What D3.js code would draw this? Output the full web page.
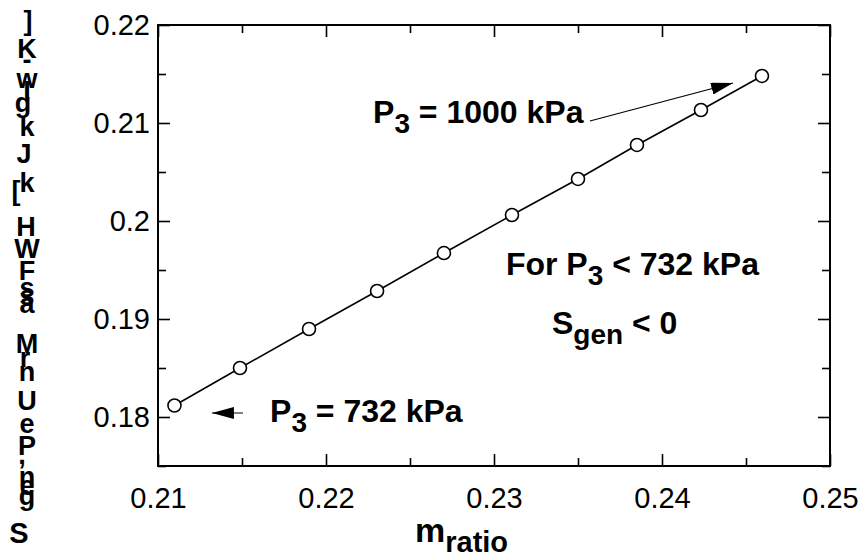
<!DOCTYPE html>
<html><head><meta charset="utf-8">
<script src="https://cdn.jsdelivr.net/npm/d3@7"></script>
<style>
body{margin:0;background:#fff}
text{font-family:"Liberation Sans",Arial,Helvetica,sans-serif;fill:#000}
</style>
</head><body>
<svg id="chart" width="864" height="560"></svg>
<script>
// ---- data ----
const mRatio = [0.21098, 0.21488, 0.21899, 0.22304, 0.22702, 0.23107, 0.23500, 0.23851, 0.24232, 0.24595];
const sGen   = [0.18117, 0.18500, 0.18898, 0.19286, 0.19673, 0.20061, 0.20429, 0.20776, 0.21133, 0.21480];
const xTicks = [0.21, 0.22, 0.23, 0.24, 0.25];
const xTickLabels = ["0.21", "0.22", "0.23", "0.24", "0.25"];
const xMinorTicks = [0.215, 0.225, 0.235, 0.245];
const yTicks = [0.18, 0.19, 0.2, 0.21, 0.22];
const yTickLabels = ["0.18", "0.19", "0.2", "0.21", "0.22"];
const yMinorTicks = [0.175, 0.185, 0.195, 0.205, 0.215];

// ---- layout ----
const svg = d3.select("#chart");
const L = 158, R = 830, T = 25, B = 466;
const x = d3.scaleLinear().domain([0.21, 0.25]).range([L, R]);
const y = d3.scaleLinear().domain([0.175, 0.22]).range([B, T]);
const tickFont = 29;

function styleAxis(g) {
  g.select(".domain").remove();
  g.selectAll("line").attr("stroke", "#000").attr("stroke-width", 1.6);
  g.selectAll("text").style("font-size", tickFont + "px");
}
const fmtX = (d) => xTickLabels[xTicks.indexOf(d)];
const fmtY = (d) => yTickLabels[yTicks.indexOf(d)];

// bottom
svg.append("g").attr("transform", `translate(0,${B})`)
  .call(d3.axisBottom(x).tickValues(xTicks).tickFormat(fmtX).tickSizeInner(-12).tickSizeOuter(0).tickPadding(21))
  .call(styleAxis);
svg.append("g").attr("transform", `translate(0,${B})`)
  .call(d3.axisBottom(x).tickValues(xMinorTicks).tickFormat("").tickSizeInner(-8).tickSizeOuter(0))
  .call(styleAxis);
// top
svg.append("g").attr("transform", `translate(0,${T})`)
  .call(d3.axisTop(x).tickValues(xTicks).tickFormat("").tickSizeInner(-12).tickSizeOuter(0))
  .call(styleAxis);
svg.append("g").attr("transform", `translate(0,${T})`)
  .call(d3.axisTop(x).tickValues(xMinorTicks).tickFormat("").tickSizeInner(-8).tickSizeOuter(0))
  .call(styleAxis);
// left
svg.append("g").attr("transform", `translate(${L},0)`)
  .call(d3.axisLeft(y).tickValues(yTicks).tickFormat(fmtY).tickSizeInner(-12).tickSizeOuter(0).tickPadding(8))
  .call(styleAxis);
svg.append("g").attr("transform", `translate(${L},0)`)
  .call(d3.axisLeft(y).tickValues(yMinorTicks).tickFormat("").tickSizeInner(-8).tickSizeOuter(0))
  .call(styleAxis);
// right
svg.append("g").attr("transform", `translate(${R},0)`)
  .call(d3.axisRight(y).tickValues(yTicks).tickFormat("").tickSizeInner(-12).tickSizeOuter(0))
  .call(styleAxis);
svg.append("g").attr("transform", `translate(${R},0)`)
  .call(d3.axisRight(y).tickValues(yMinorTicks).tickFormat("").tickSizeInner(-8).tickSizeOuter(0))
  .call(styleAxis);

// frame
svg.append("rect").attr("x", L).attr("y", T).attr("width", R - L).attr("height", B - T)
  .attr("fill", "none").attr("stroke", "#000").attr("stroke-width", 2);

// line + markers
const pts = mRatio.map((m, i) => [m, sGen[i]]);
svg.append("path").datum(pts)
  .attr("d", d3.line().x(d => x(d[0])).y(d => y(d[1])))
  .attr("fill", "none").attr("stroke", "#000").attr("stroke-width", 1.6);
svg.selectAll("circle.pt").data(pts).join("circle").attr("class", "pt")
  .attr("cx", d => x(d[0])).attr("cy", d => y(d[1])).attr("r", 6.5)
  .attr("fill", "#fff").attr("stroke", "#000").attr("stroke-width", 1.6);

// ---- annotations ----
function subText(px, py, parts, size, subSize, subDy) {
  const t = svg.append("text").attr("x", px).attr("y", py)
    .style("font-size", size + "px").style("font-weight", "bold");
  parts.forEach(p => {
    if (p.sub) {
      t.append("tspan").text(p.t).attr("dy", subDy).style("font-size", subSize + "px");
    } else {
      t.append("tspan").text(p.t).attr("dy", p.after ? -subDy : 0);
    }
  });
  return t;
}
subText(x(0.2228), y(0.2100), [{t:"P"},{t:"3",sub:true},{t:" = 1000 kPa",after:true}], 32, 28, 10);
subText(x(0.21667), y(0.17949), [{t:"P"},{t:"3",sub:true},{t:" = 732 kPa",after:true}], 32, 28, 10);
subText(x(0.23071), y(0.19449), [{t:"For P"},{t:"3",sub:true},{t:" < 732 kPa",after:true}], 32, 28, 10);
subText(x(0.23345), y(0.18847), [{t:"S"},{t:"gen",sub:true},{t:" < 0",after:true}], 32, 28, 10);

// arrows
svg.append("defs").append("marker").attr("id", "ah")
  .attr("viewBox", "0 0 22 12").attr("refX", 22).attr("refY", 6)
  .attr("markerWidth", 22).attr("markerHeight", 12).attr("markerUnits", "userSpaceOnUse")
  .attr("orient", "auto")
  .append("path").attr("d", "M0,0 L22,6 L0,12 Z").attr("fill", "#000");
function arrow(x1, y1, x2, y2) {
  svg.append("line").attr("x1", x(x1)).attr("y1", y(y1)).attr("x2", x(x2)).attr("y2", y(y2))
    .attr("stroke", "#000").attr("stroke-width", 1.2).attr("marker-end", "url(#ah)");
}
arrow(0.23571, 0.21020, 0.24423, 0.21408);
arrow(0.21506, 0.18041, 0.21321, 0.18041);

// x axis title
const xt = svg.append("text").attr("x", 415).attr("y", 542)
  .style("font-size", "34px").style("font-weight", "bold");
xt.append("tspan").text("m");
xt.append("tspan").text("ratio").attr("dy", 10).style("font-size", "29px");

// y axis title: one text whose glyphs are stacked upright, as in the reference
const yGlyphs = [
  ["]",28,30],["K",27,58],["-",27,69],["w",27,88],["I",27,100],["g",23,112],["k",27,136],
  ["J",24,163],["k",27,192],["[",16,200],["H",26,236],["W",27,258],["F",27,280],
  ["s",27,297],["s",27,305],["a",27,313],["M",27,353],["r",25,367],["n",27,381],
  ["U",27,410],["e",27,433],["P",27,455],[",",22,464],["n",27,486],["e",27,495],["g",27,505],["S",19,543]
];
const yt = svg.append("text").attr("text-anchor", "middle")
  .style("font-size", "27px").style("font-weight", "bold");
yt.selectAll("tspan").data(yGlyphs).join("tspan")
  .attr("x", d => d[1]).attr("y", d => d[2])
  .style("font-size", d => d[0] === "S" ? "29px" : null)
  .text(d => d[0]);
</script>
</body></html>
